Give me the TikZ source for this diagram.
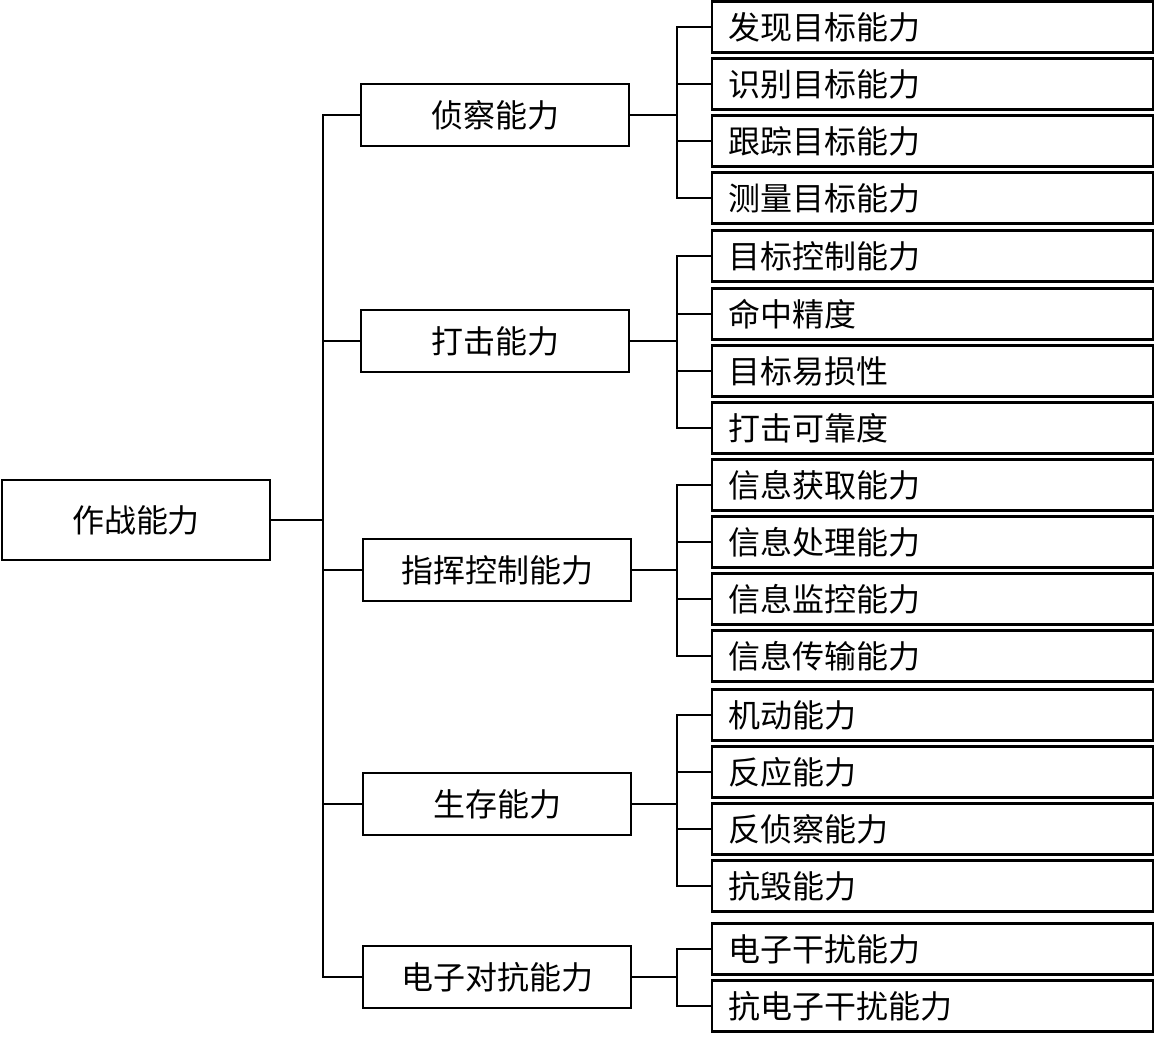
\documentclass[tikz,border=0pt]{standalone}
\usepackage{fontspec}
\newfontfamily\cjk{Noto Sans CJK SC}
\begin{document}
\begin{tikzpicture}[x=0.5pt, y=-0.5pt, line width=1pt,
  font=\cjk\fontsize{16pt}{19pt}\selectfont,
  raiz/.style={draw, line width=1.2pt, minimum width=134pt, minimum height=40pt, inner sep=0pt},
  meio/.style={draw, line width=1.2pt, minimum width=134pt, minimum height=31pt, inner sep=0pt},
  folha/.style={draw, line width=1.2pt, anchor=west, text width=204.5pt, inner xsep=8pt,
    inner ysep=0pt, minimum height=25.5pt, align=left}]
  % Arvore de tres niveis: a capacidade de combate a esquerda, cinco ramos ao meio e as
  % dezoito folhas a direita; cada ramo fica centrado no seu grupo de folhas.
  \useasboundingbox (0,0) rectangle (1158,1038);
  \node[raiz] (zuozhan) at (136,520) {作战能力};
  \coordinate (tronco) at (323,520);
  \node[meio] (zhencha) at (495,115) {侦察能力};
  \node[meio] (daji) at (495,341) {打击能力};
  \node[meio] (zhihui) at (497,570) {指挥控制能力};
  \node[meio] (shengcun) at (497,804) {生存能力};
  \node[meio] (dianzi) at (497,977) {电子对抗能力};
  \draw (zuozhan.east) -- (tronco);
  \draw (zhencha.west) -| (tronco);
  \draw (daji.west) -| (tronco);
  \draw (zhihui.west) -| (tronco);
  \draw (shengcun.west) -| (tronco);
  \draw (dianzi.west) -| (tronco);
  % folhas do reconhecimento
  \coordinate (r1) at (677,115);
  \node[folha] (f1) at (711,27) {发现目标能力};
  \node[folha] (f2) at (711,84) {识别目标能力};
  \node[folha] (f3) at (711,141) {跟踪目标能力};
  \node[folha] (f4) at (711,198) {测量目标能力};
  \draw (zhencha.east) -- (r1);
  \draw (f1.west) -| (r1);
  \draw (f2.west) -| (r1);
  \draw (f3.west) -| (r1);
  \draw (f4.west) -| (r1);
  % folhas do ataque
  \coordinate (r2) at (677,341);
  \node[folha] (f5) at (711,256) {目标控制能力};
  \node[folha] (f6) at (711,314) {命中精度};
  \node[folha] (f7) at (711,371) {目标易损性};
  \node[folha] (f8) at (711,428) {打击可靠度};
  \draw (daji.east) -- (r2);
  \draw (f5.west) -| (r2);
  \draw (f6.west) -| (r2);
  \draw (f7.west) -| (r2);
  \draw (f8.west) -| (r2);
  % folhas do comando e controlo
  \coordinate (r3) at (677,570);
  \node[folha] (f9) at (711,485) {信息获取能力};
  \node[folha] (f10) at (711,542) {信息处理能力};
  \node[folha] (f11) at (711,599) {信息监控能力};
  \node[folha] (f12) at (711,656) {信息传输能力};
  \draw (zhihui.east) -- (r3);
  \draw (f9.west) -| (r3);
  \draw (f10.west) -| (r3);
  \draw (f11.west) -| (r3);
  \draw (f12.west) -| (r3);
  % folhas da sobrevivencia
  \coordinate (r4) at (677,804);
  \node[folha] (f13) at (711,715) {机动能力};
  \node[folha] (f14) at (711,772) {反应能力};
  \node[folha] (f15) at (711,829) {反侦察能力};
  \node[folha] (f16) at (711,886) {抗毁能力};
  \draw (shengcun.east) -- (r4);
  \draw (f13.west) -| (r4);
  \draw (f14.west) -| (r4);
  \draw (f15.west) -| (r4);
  \draw (f16.west) -| (r4);
  % folhas da guerra electronica
  \coordinate (r5) at (677,977);
  \node[folha] (f17) at (711,949) {电子干扰能力};
  \node[folha] (f18) at (711,1006) {抗电子干扰能力};
  \draw (dianzi.east) -- (r5);
  \draw (f17.west) -| (r5);
  \draw (f18.west) -| (r5);
\end{tikzpicture}
\end{document}
